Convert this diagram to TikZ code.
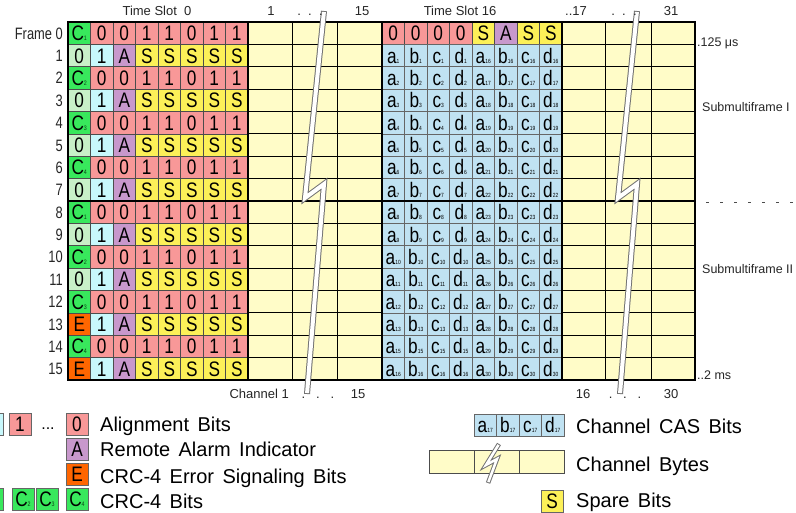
\documentclass[tikz,border=0pt]{standalone}
\usepackage{fontspec}
\usepackage{graphicx}
\setmainfont{Liberation Sans}
\newfontfamily\cellfont[FakeStretch=0.82]{Liberation Sans}
\definecolor{cgreen}{RGB}{56,232,92}
\definecolor{lgreen}{RGB}{200,240,200}
\definecolor{lcyan}{RGB}{200,248,252}
\definecolor{pinkb}{RGB}{248,152,152}
\definecolor{purp}{RGB}{200,152,204}
\definecolor{yel}{RGB}{252,240,88}
\definecolor{ora}{RGB}{255,102,0}
\definecolor{pale}{RGB}{255,252,200}
\definecolor{cas}{RGB}{192,226,242}
\definecolor{subgreen}{RGB}{10,70,20}
\newcommand{\sbs}[1]{{\fontsize{6}{6}\selectfont #1}}
\newcommand{\csub}[1]{C{\fontsize{6.5}{6.5}\selectfont\textcolor{subgreen}{#1}}}
\newcommand{\legfont}{\fontsize{20}{20}\selectfont\spaceskip 0.42em\relax}
\newcommand{\narrowtext}[1]{\scalebox{0.78}[1]{#1}}
\tikzset{
  cell/.style={draw=black!70, line width=0.7pt, minimum width=22.5pt, minimum height=22.375pt,
    inner sep=0pt, font=\fontsize{21}{21}\cellfont, text height=15pt, text depth=0pt},
  legcell/.style={cell, draw=black!60, minimum width=22pt, minimum height=22pt},
  thinline/.style={draw=black, line width=0.8pt},
  thickline/.style={draw=black, line width=2.6pt},
  boltout/.style={draw=black!55, line width=6pt, line join=miter},
  boltin/.style={draw=white, line width=4pt, line join=miter, shorten >=1pt, shorten <=1pt},
  toplab/.style={font=\fontsize{13}{13}\selectfont, text=black!85, inner sep=0pt},
  sidelab/.style={font=\fontsize{12.5}{12.5}\selectfont, text=black!85, inner sep=0pt, anchor=base west},
  rowlab/.style={font=\fontsize{16.5}{16.5}\selectfont, text=black!85, inner sep=0pt, anchor=east, text height=12pt, text depth=0pt},
  legtext/.style={font=\legfont, inner sep=0pt, anchor=base west}
}
\begin{document}
\begin{tikzpicture}[x=1pt,y=-1pt]
\useasboundingbox (0,0) rectangle (796,513);
\fill[white] (0,0) rectangle (796,513);
% channel byte areas
\fill[pale] (248,22) rectangle (382,380);
\fill[pale] (562,22) rectangle (695,380);
\foreach \k in {1,...,15} {
  \draw[thinline] (248,{22+22.375*\k}) -- (382,{22+22.375*\k});
  \draw[thinline] (562,{22+22.375*\k}) -- (695,{22+22.375*\k});
}
\foreach \xx in {292,337,605,651} \draw[thinline] (\xx,22) -- (\xx,380);
% Time slot 0, even rows
\foreach \r/\k in {0/1,2/2,4/3,6/4,8/1,10/2,12/3,14/4} {
  \node[cell, fill=cgreen] (t0-\r-0) at ({68+11.25},{22+22.375*(\r+0.5)}) {\csub{\k}};
  \foreach \c/\b in {1/0,2/0,3/1,4/1,5/0,6/1,7/1}
    \node[cell, fill=pinkb] (t0-\r-\c) at ({68+22.5*(\c+0.5)},{22+22.375*(\r+0.5)}) {\b};
}
% Time slot 0, odd rows
\foreach \r/\f/\fc in {1/0/lgreen,3/0/lgreen,5/0/lgreen,7/0/lgreen,9/0/lgreen,11/0/lgreen,13/E/ora,15/E/ora} {
  \node[cell, fill=\fc] (t0-\r-0) at ({68+11.25},{22+22.375*(\r+0.5)}) {\f};
  \node[cell, fill=lcyan] (t0-\r-1) at ({68+22.5*1.5},{22+22.375*(\r+0.5)}) {1};
  \node[cell, fill=purp] (t0-\r-2) at ({68+22.5*2.5},{22+22.375*(\r+0.5)}) {A};
  \foreach \c in {3,...,7}
    \node[cell, fill=yel] (t0-\r-\c) at ({68+22.5*(\c+0.5)},{22+22.375*(\r+0.5)}) {S};
}
% Time slot 16
\foreach \c/\b/\col in {0/0/pinkb,1/0/pinkb,2/0/pinkb,3/0/pinkb,4/S/yel,5/A/purp,6/S/yel,7/S/yel}
  \node[cell, fill=\col] (t16-0-\c) at ({382+22.5*(\c+0.5)},{22+22.375*0.5}) {\b};
\foreach \r/\m/\n in {1/1/16,2/2/17,3/3/18,4/4/19,5/5/20,6/6/21,7/7/22,8/8/23,9/9/24,10/10/25,11/11/26,12/12/27,13/13/28,14/15/29,15/16/30} {
  \foreach \c/\L in {0/a,1/b,2/c,3/d} {
    \node[cell, fill=cas, draw=black!60] (t16-\r-\c) at ({382+22.5*(\c+0.5)},{22+22.375*(\r+0.5)}) {\L\sbs{\m}};
    \node[cell, fill=cas, draw=black!60] (t16b-\r-\c) at ({382+22.5*(\c+4.5)},{22+22.375*(\r+0.5)}) {\L\sbs{\n}};
  }
}
% thick frame lines
\draw[thickline] (68,22) rectangle (695,380);
\foreach \xx in {248,382,562} \draw[thickline] (\xx,22) -- (\xx,380);
\draw[thickline] (68,201) -- (695,201);
% break symbols
\foreach \dx in {0,313} {
  \draw[boltout] ({324+\dx},11) -- ({305+\dx},198) -- ({324+\dx},184) -- ({307+\dx},394);
  \draw[boltin] ({324+\dx},11) -- ({305+\dx},198) -- ({324+\dx},184) -- ({307+\dx},394);
}
% row labels
\node[rowlab] (fr0) at (63,{22+22.375*0.5}) {\narrowtext{Frame 0}};
\foreach \r in {1,...,15}
  \node[rowlab] (fr\r) at (63,{22+22.375*(\r+0.5)}) {\narrowtext{\r}};
% top labels
\node[toplab, anchor=base] (ts0) at (157,16) {Time Slot \ 0};
\node[toplab, anchor=base] (tc1) at (271,16) {1};
\node[toplab, anchor=base] (tdots1) at (310,16) {.\ \ .\ \ .};
\node[toplab, anchor=base] (tc15) at (362,16) {15};
\node[toplab, anchor=base] (ts16) at (460,16) {Time Slot 16};
\node[toplab, anchor=base west] (tc17) at (565,16) {..17};
\node[toplab, anchor=base] (tdots2) at (624,16) {.\ \ .\ \ .};
\node[toplab, anchor=base] (tc31) at (671,16) {31};
% bottom labels
\node[toplab, anchor=base east] (bch1) at (289,399) {Channel 1};
\node[toplab, anchor=base] (bdots1) at (318,399) {.\ \ \ .\ \ \ .};
\node[toplab, anchor=base] (bc15) at (358,399) {15};
\node[toplab, anchor=base] (bc16) at (583,399) {16};
\node[toplab, anchor=base] (bdots2) at (625,399) {.\ \ \ .\ \ \ .};
\node[toplab, anchor=base] (bc30) at (671,399) {30};
% right labels
\node[sidelab] (t125) at (697,47) {.125 μs};
\node[sidelab] (smf1) at (702,112) {Submultiframe I};
\draw[black!70, line width=0.8pt, dash pattern=on 3pt off 11pt] (706,202) -- (796,202);
\node[sidelab] (smf2) at (702,274) {Submultiframe II};
\node[sidelab] (t2ms) at (697,380) {..2 ms};
% legend left
\node[legcell, fill=lcyan] (lg-c0) at (-8,424) {};
\node[legcell, fill=pinkb] (lg-p1) at (20,424) {1};
\node[font=\fontsize{16}{16}\selectfont, inner sep=0pt, anchor=base] (lg-dots) at (48,429) {...};
\node[legcell, fill=pinkb] (lg-p0) at (77,424) {0};
\node[legcell, fill=purp] (lg-a) at (77,449) {A};
\node[legcell, fill=ora] (lg-e) at (77,474) {E};
\node[legcell, fill=cgreen] (lg-c1) at (-8,499) {};
\node[legcell, fill=cgreen] (lg-c2) at (23,499) {\csub{2}};
\node[legcell, fill=cgreen] (lg-c3) at (47,499) {\csub{3}};
\node[legcell, fill=cgreen] (lg-c4) at (77,499) {\csub{4}};
\node[legtext] (lt1) at (100,431) {Alignment Bits};
\node[legtext] (lt2) at (100,456) {Remote Alarm Indicator};
\node[legtext] (lt3) at (100,483) {CRC-4 Error Signaling Bits};
\node[legtext] (lt4) at (100,508) {CRC-4 Bits};
% legend right
\foreach \c/\L in {0/a,1/b,2/c,3/d}
  \node[legcell, fill=cas, minimum width=22.5pt] (lg-cas\c) at ({474+22.5*(\c+0.5)},425) {\L\sbs{17}};
\foreach \c in {0,1,2}
  \node[draw=black!70, line width=0.7pt, fill=pale, minimum width=45pt, minimum height=23pt, inner sep=0pt] (lg-byte\c) at ({429+45*(\c+0.5)},461.5) {};
\draw[boltout, line width=4.5pt] (499,444) -- (486,465) -- (497,459) -- (488,483);
\draw[boltin, line width=2.5pt] (499,444) -- (486,465) -- (497,459) -- (488,483);
\node[legcell, fill=yel] (lg-s) at (552,501) {S};
\node[legtext] (lt5) at (576,433) {Channel CAS Bits};
\node[legtext] (lt6) at (576,471) {Channel Bytes};
\node[legtext] (lt7) at (576,507) {Spare Bits};
\end{tikzpicture}
\end{document}
